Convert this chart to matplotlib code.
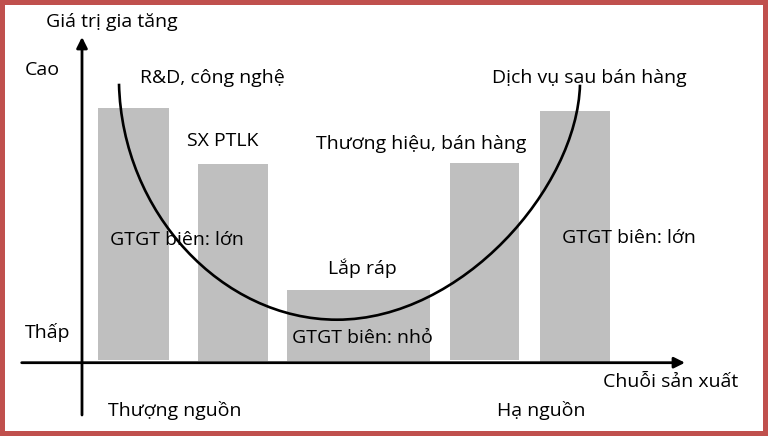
import numpy as np
import matplotlib.pyplot as plt
from matplotlib.path import Path
from matplotlib.patches import PathPatch

plt.rcParams['font.family'] = ['Open Sans', 'DejaVu Sans']

# stages of the value chain (smile curve)
stages = ['R&D, công nghệ', 'SX PTLK', 'Lắp ráp', 'Thương hiệu, bán hàng', 'Dịch vụ sau bán hàng']
bar_left = [16, 116, 205, 368, 458]
bar_width = [71, 70, 143, 69, 70]
bar_bottom = [3, 2, 2, 3, 0]
bar_top = [255, 199, 73, 200, 252]

# smile curve as two cubic bezier pieces (start, ctrl, ctrl, end)
curve_x = [37, 40, 140, 255, 380, 495, 498]
curve_y = [279, 150, 43, 43, 43, 175, 278]

OX, OY = 82, 362.7  # axis origin in pixels


def px(x, y):
    return x - OX, OY - y


fig = plt.figure(figsize=(7.68, 4.36), dpi=100, edgecolor='#C0504D', linewidth=6)
ax = fig.add_axes([0, 0, 1, 1])
ax.set_xlim(-OX, 768 - OX)
ax.set_ylim(OY - 436, OY)
ax.axis('off')

heights = np.array(bar_top) - np.array(bar_bottom)
ax.bar(bar_left, heights, width=bar_width, bottom=bar_bottom, align='edge',
       color='#BFBFBF', zorder=1)

codes = [Path.MOVETO] + [Path.CURVE4] * 6
smile = Path(list(zip(curve_x, curve_y)), codes)
ax.add_patch(PathPatch(smile, fill=False, edgecolor='black', lw=1.9, zorder=3,
                       capstyle='butt'))

# axes with arrows
ax.annotate('', xy=px(685, OY), xytext=px(21.7, OY),
            arrowprops=dict(arrowstyle='-|>', lw=2, color='black', mutation_scale=16,
                            shrinkA=0, shrinkB=0), zorder=2)
ax.annotate('', xy=px(82, 37), xytext=px(82, 415),
            arrowprops=dict(arrowstyle='-|>', lw=2, color='black', mutation_scale=16,
                            shrinkA=0, shrinkB=0), zorder=2)

fs = 14
labels = [
    ('Giá trị gia tăng', 46, 22),
    ('Cao', 25, 70),
    (stages[0], 140, 78),
    (stages[1], 187, 141),
    (stages[3], 316, 144),
    (stages[4], 492, 78),
    ('GTGT biên: lớn', 110, 240),
    ('GTGT biên: lớn', 562, 238),
    (stages[2], 328, 268),
    ('GTGT biên: nhỏ', 292, 338),
    ('Thấp', 25, 333),
    ('Chuỗi sản xuất', 603, 382),
    ('Thượng nguồn', 108, 410),
    ('Hạ nguồn', 497, 410),
]
for txt, x, y in labels:
    ax.text(*px(x, y), txt, fontsize=fs, ha='left', va='center', zorder=4)

fig.savefig('out.png', dpi=100)
